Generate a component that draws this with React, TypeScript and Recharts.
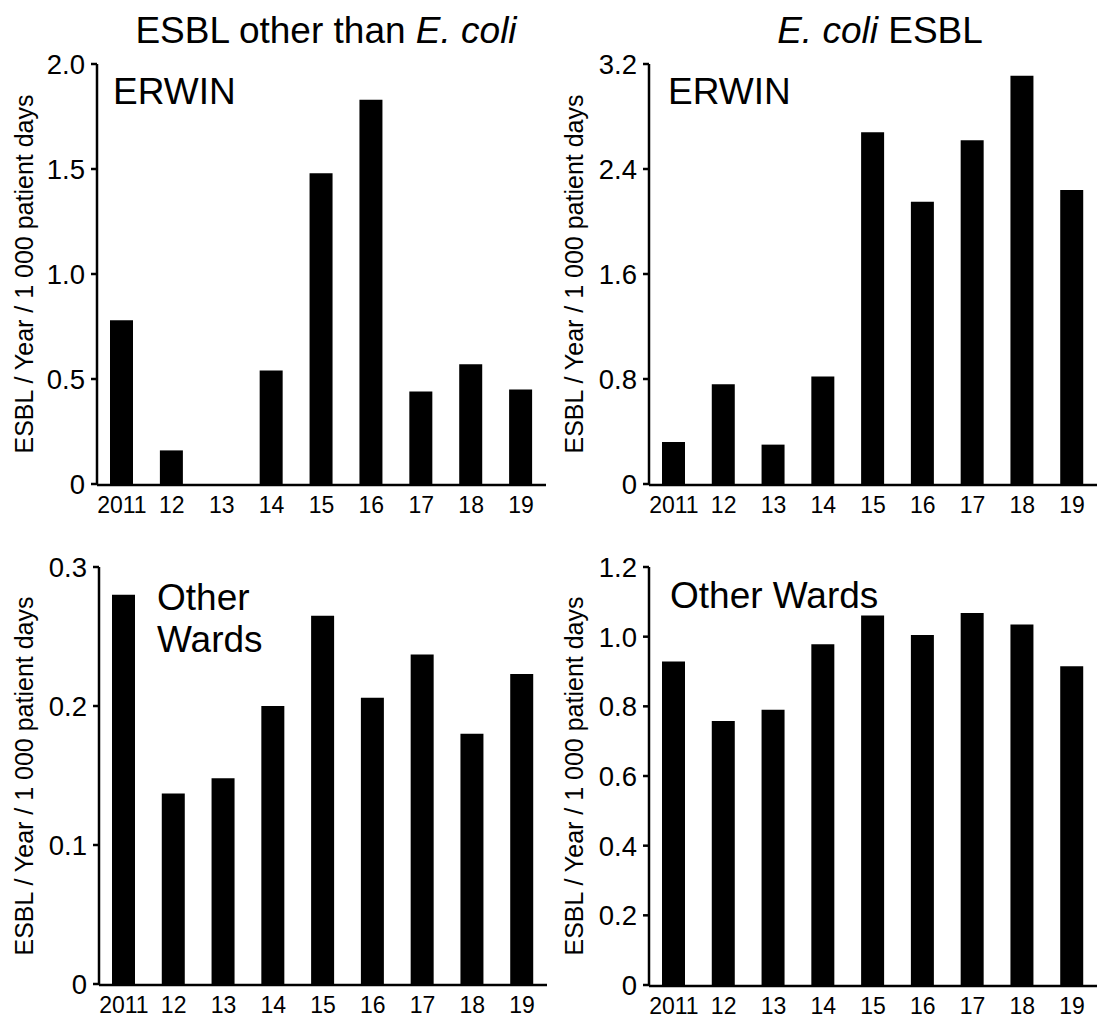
import { Bar, BarChart, XAxis, YAxis } from "recharts"

const FONT = "'Liberation Sans', Arial, sans-serif"
const INK = "#000"

const years = ["2011", "12", "13", "14", "15", "16", "17", "18", "19"]

// ESBL other than E. coli
const erwinOther = [0.78, 0.16, 0, 0.54, 1.48, 1.83, 0.44, 0.57, 0.45]
const wardsOther = [0.28, 0.137, 0.148, 0.2, 0.265, 0.206, 0.237, 0.18, 0.223]

// E. coli ESBL
const erwinEcoli = [0.32, 0.76, 0.3, 0.82, 2.68, 2.15, 2.62, 3.11, 2.24]
const wardsEcoli = [0.929, 0.758, 0.79, 0.978, 1.061, 1.005, 1.068, 1.035, 0.915]

const ticksErwinOther = [0, 0.5, 1, 1.5, 2]
const ticksErwinEcoli = [0, 0.8, 1.6, 2.4, 3.2]
const ticksWardsOther = [0, 0.1, 0.2, 0.3]
const ticksWardsEcoli = [0, 0.2, 0.4, 0.6, 0.8, 1, 1.2]

const boundaries = years.map((_, i) => i).concat(years.length)

const rows = (vals: number[]) => years.map((year, i) => ({ year, v: vals[i], pos: i + 0.5 }))

const fmt = (v: number) => (v === 0 ? "0" : v.toFixed(1))

function XTick(props: any) {
  const { x, y, payload } = props
  return (
    <text x={x} y={y} dy="0.72em" textAnchor="middle" fontSize={23} fontFamily={FONT} fill={INK}>
      {payload.value}
    </text>
  )
}

function YTick(props: any) {
  const { x, y, payload } = props
  return (
    <text x={x} y={y} dy="0.36em" textAnchor="end" fontSize={27.5} fontFamily={FONT} fill={INK}>
      {fmt(payload.value)}
    </text>
  )
}

function Panel({
  vals,
  ticks,
  left,
  top,
  width,
  height,
  yWidth,
  mTop,
  mRight,
  mBottom,
}: {
  vals: number[]
  ticks: number[]
  left: number
  top: number
  width: number
  height: number
  yWidth: number
  mTop: number
  mRight: number
  mBottom: number
}) {
  const axisStyle = { stroke: INK, strokeWidth: 2.5 }
  return (
    <div style={{ position: "absolute", left, top }}>
      <BarChart
        width={width}
        height={height}
        data={rows(vals)}
        margin={{ top: mTop, right: mRight, left: 0, bottom: mBottom }}
      >
        {/* axis line + tick marks between categories */}
        <XAxis
          xAxisId="grid"
          type="number"
          dataKey="pos"
          domain={[0, years.length]}
          ticks={boundaries}
          allowDataOverflow
          tick={false}
          tickSize={7}
          height={1}
          axisLine={axisStyle}
          tickLine={axisStyle}
        />
        <XAxis
          xAxisId="cat"
          dataKey="year"
          height={1}
          tickSize={0}
          tickMargin={12}
          axisLine={false}
          tickLine={false}
          interval={0}
          tick={<XTick />}
        />
        <YAxis
          domain={[0, ticks[ticks.length - 1]]}
          ticks={ticks}
          interval={0}
          allowDataOverflow
          width={yWidth}
          tickSize={6}
          tickMargin={6}
          axisLine={axisStyle}
          tickLine={axisStyle}
          tick={<YTick />}
        />
        <Bar xAxisId="cat" dataKey="v" fill={INK} barSize={23} isAnimationActive={false} />
      </BarChart>
    </div>
  )
}

const yTitle = "ESBL / Year / 1 000 patient days"

export default function App() {
  return (
    <div
      style={{
        position: "absolute",
        left: 0,
        top: 0,
        width: 1099,
        height: 1021,
        background: "#fff",
        fontFamily: FONT,
      }}
    >
      <Panel vals={erwinOther} ticks={ticksErwinOther} left={0} top={0} width={550} height={540} yWidth={97} mTop={64} mRight={4} mBottom={54} />
      <Panel vals={erwinEcoli} ticks={ticksErwinEcoli} left={550} top={0} width={549} height={540} yWidth={99} mTop={64} mRight={2} mBottom={54} />
      <Panel vals={wardsOther} ticks={ticksWardsOther} left={0} top={520} width={550} height={520} yWidth={99} mTop={47} mRight={3} mBottom={54} />
      <Panel vals={wardsEcoli} ticks={ticksWardsEcoli} left={550} top={520} width={549} height={520} yWidth={99} mTop={47} mRight={2} mBottom={53} />

      <svg
        width={1099}
        height={1021}
        style={{ position: "absolute", left: 0, top: 0, pointerEvents: "none" }}
        fontFamily={FONT}
        fill={INK}
      >
        <text x={326} y={43} fontSize={37} textAnchor="middle">
          ESBL other than <tspan fontStyle="italic">E. coli</tspan>
        </text>
        <text x={880} y={43} fontSize={37} textAnchor="middle">
          <tspan fontStyle="italic">E. coli</tspan> ESBL
        </text>

        <text x={113} y={104} fontSize={37}>ERWIN</text>
        <text x={668} y={104} fontSize={37}>ERWIN</text>
        <text x={157} y={610} fontSize={37}>Other</text>
        <text x={157} y={652} fontSize={37}>Wards</text>
        <text x={670} y={608} fontSize={37}>Other Wards</text>

        <text x={33} y={274} fontSize={25} textAnchor="middle" transform="rotate(-90 33 274)">{yTitle}</text>
        <text x={583} y={274} fontSize={25} textAnchor="middle" transform="rotate(-90 583 274)">{yTitle}</text>
        <text x={33} y={776} fontSize={25} textAnchor="middle" transform="rotate(-90 33 776)">{yTitle}</text>
        <text x={583} y={776} fontSize={25} textAnchor="middle" transform="rotate(-90 583 776)">{yTitle}</text>
      </svg>
    </div>
  )
}
